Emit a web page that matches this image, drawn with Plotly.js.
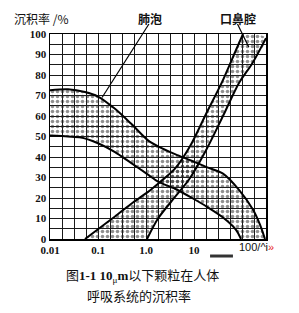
<!DOCTYPE html>
<html>
<head>
<meta charset="utf-8">
<script src="https://cdn.plot.ly/plotly-3.0.1.min.js"></script>
<style>html,body{margin:0;padding:0;background:#fff;}#chart{width:299px;height:313px;}</style>
</head>
<body>
<div id="chart"></div>
<script>
// Particle diameter (μm) and deposition rate (%)
// 肺泡 band: upper and lower boundaries
const alvUpperDiam = [0.01, 0.0237, 0.0536, 0.1, 0.226, 0.487, 1.10, 1.78, 4.02, 9.09, 17.8, 40.2, 86.6, 170, 237, 301];
const alvUpperDep  = [72.6, 73.0, 71.7, 69.5, 63.5, 56.3, 48.1, 45.2, 41.4, 38.1, 35.2, 31.9, 24.0, 14.3, 7.0, 0];
const alvLowerDiam = [0.01, 0.0237, 0.0443, 0.1, 0.226, 0.487, 1.10, 1.78, 4.02, 9.09, 18.7, 40.2, 75, 95.3];
const alvLowerDep  = [50.5, 50.0, 49.5, 46.7, 42.4, 37.1, 31.4, 28.0, 24.5, 20.0, 15.7, 10.5, 4.5, 0];
// 口鼻腔 band: left and right boundaries
const nasLeftDiam  = [0.0536, 0.110, 0.226, 0.487, 1.10, 1.78, 4.02, 8.25, 17.8, 38.3, 75, 105];
const nasLeftDep   = [0, 5.5, 11.0, 17.1, 23.0, 27.0, 34.3, 45.2, 61.0, 76.5, 92.2, 100];
const nasRightDiam = [1.05, 1.78, 4.02, 7.87, 17.8, 40.2, 86.6, 162, 316];
const nasRightDep  = [0, 10, 20.5, 29.0, 43.3, 60.0, 76.1, 85.5, 98];

// Axis ticks
const xGridVals = Array.from({length: 19}, (_, k) => Math.pow(10, -2 + 0.25 * k));
const xTickText = ['0.01','','','','0.1','','','','1.0','','','','10','','','','','',''];
const yGridVals = Array.from({length: 21}, (_, k) => k * 5);
const yTickText = yGridVals.map(v => (v % 10 === 0 ? String(v) : ''));

const pattern = {shape: '.', size: 5, solidity: 0.4, fgcolor: '#222', bgcolor: 'rgba(0,0,0,0)', fillmode: 'overlay'};

function band(x1, y1, x2, y2) {
  return {
    x: x1.concat(x2.slice().reverse()),
    y: y1.concat(y2.slice().reverse()),
    mode: 'lines', fill: 'toself', fillcolor: 'rgba(0,0,0,0)',
    fillpattern: pattern, line: {width: 0, shape: 'spline', smoothing: 0.8},
    hoverinfo: 'skip', showlegend: false
  };
}
function edge(x, y) {
  return {x: x, y: y, mode: 'lines', line: {color: '#000', width: 2, shape: 'spline', smoothing: 0.8},
          hoverinfo: 'skip', showlegend: false};
}

const traces = [
  band(alvUpperDiam, alvUpperDep, alvLowerDiam, alvLowerDep),
  band(nasLeftDiam, nasLeftDep, nasRightDiam, nasRightDep),
  edge(alvUpperDiam, alvUpperDep),
  edge(alvLowerDiam, alvLowerDep),
  edge(nasLeftDiam, nasLeftDep),
  edge(nasRightDiam, nasRightDep)
];

const tickFont = {family: 'Liberation Serif, serif', size: 11, color: '#111', weight: 700};
const cjk = 'Noto Sans CJK SC, sans-serif';

const layout = {
  width: 299, height: 313, autosize: false,
  margin: {l: 50, r: 33, t: 34, b: 74},
  paper_bgcolor: '#fff', plot_bgcolor: '#fff',
  showlegend: false,
  xaxis: {
    type: 'log', range: [-2, 2.5],
    tickmode: 'array', tickvals: xGridVals, ticktext: xTickText,
    showgrid: true, gridcolor: '#1a1a1a', gridwidth: 1,
    showline: true, linecolor: '#000', linewidth: 1.5, mirror: true,
    ticks: '', zeroline: false, tickfont: tickFont, fixedrange: true
  },
  yaxis: {
    type: 'linear', range: [0, 100],
    tickmode: 'array', tickvals: yGridVals, ticktext: yTickText,
    showgrid: true, gridcolor: '#1a1a1a', gridwidth: 1,
    showline: true, linecolor: '#000', linewidth: 1.5, mirror: true,
    ticks: '', zeroline: false, tickfont: tickFont, fixedrange: true
  },
  shapes: [
    {type: 'line', xref: 'paper', yref: 'paper', x0: 0.458, y0: 1.049, x1: 0.241, y1: 0.69, line: {color: '#000', width: 1.2}},
    {type: 'line', xref: 'paper', yref: 'paper', x0: 0.868, y0: 1.049, x1: 0.920, y1: 0.937, line: {color: '#000', width: 1.2}},
    {type: 'line', xref: 'paper', yref: 'paper', x0: 0.741, y0: -0.083, x1: 0.847, y1: -0.083, line: {color: '#333', width: 3}}
  ],
  annotations: [
    {xref: 'paper', yref: 'paper', x: -0.178, y: 1.078, xanchor: 'left', yanchor: 'middle', showarrow: false,
     text: '沉积率 /%', font: {family: cjk, size: 12, color: '#111'}},
    {xref: 'paper', yref: 'paper', x: 0.463, y: 1.078, xanchor: 'center', yanchor: 'middle', showarrow: false,
     text: '<b>肺泡</b>', font: {family: cjk, size: 12, color: '#111'}},
    {xref: 'paper', yref: 'paper', x: 0.870, y: 1.078, xanchor: 'center', yanchor: 'middle', showarrow: false,
     text: '<b>口鼻腔</b>', font: {family: cjk, size: 12, color: '#111'}},
    {xref: 'paper', yref: 'paper', x: 0.954, y: -0.039, xanchor: 'center', yanchor: 'middle', showarrow: false,
     text: '100/^i<span style="color:#e8261e">»</span>', font: {family: 'Liberation Sans, sans-serif', size: 11, color: '#111'}},
    {xref: 'paper', yref: 'paper', x: 0.426, y: -0.176, xanchor: 'center', yanchor: 'middle', showarrow: false,
     text: '图<span style="font-family:Liberation Serif"><b>1-1 10</b><sub>μ</sub><b>m</b></span>以下颗粒在人体',
     font: {family: cjk, size: 13, color: '#111'}},
    {xref: 'paper', yref: 'paper', x: 0.412, y: -0.278, xanchor: 'center', yanchor: 'middle', showarrow: false,
     text: '呼吸系统的沉积率', font: {family: cjk, size: 13, color: '#111'}}
  ]
};

Plotly.newPlot('chart', traces, layout, {displayModeBar: false, staticPlot: true});
</script>
</body>
</html>
